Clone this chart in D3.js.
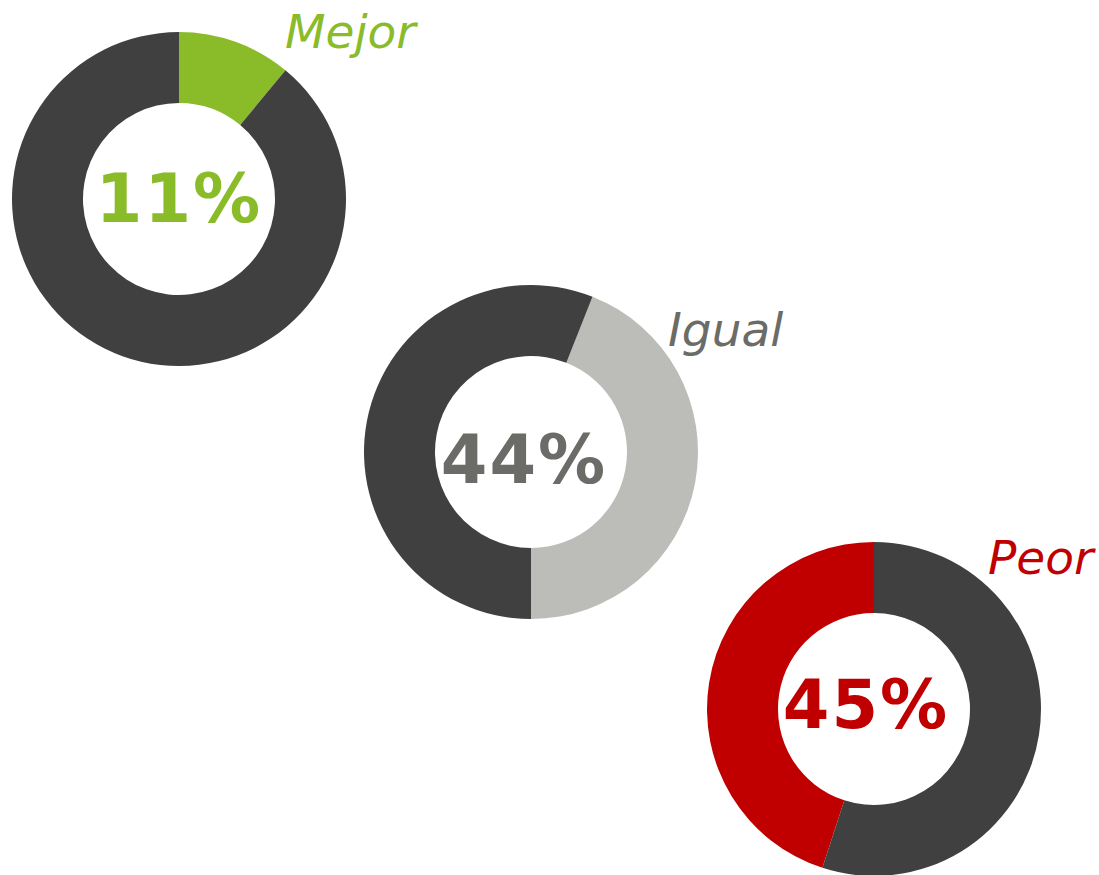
<!DOCTYPE html>
<html>
<head>
<meta charset="utf-8">
<script src="https://cdn.jsdelivr.net/npm/d3@7"></script>
<style>
  html, body { margin: 0; padding: 0; background: #fff; }
  svg { display: block; }
</style>
</head>
<body>
<div id="chart"></div>
<script>
// data
const categories = ['Mejor', 'Igual', 'Peor'];
const shares = [11, 44, 45];
const colors = ['#8abb28', '#bcbcb8', '#c00000'];
const textColors = ['#8abb28', '#6b6b67', '#c00000'];

// layout: donut centres, where the highlighted slice starts (degrees), label spot
const centers = [[179, 199], [531, 452], [874, 709]];
const sliceStart = [0, 21.6, 198];
const labelPos = [[285, 48], [668, 346], [988, 574]];
const pctOffset = [[0, 23], [-7, 31], [-8, 19]];

const width = 1099, height = 875;
const outerR = 167, innerR = 96;
const dark = '#404040';

const svg = d3.select('#chart').append('svg')
	.attr('width', width)
	.attr('height', height);

const arc = d3.arc()
	.innerRadius(innerR)
	.outerRadius(outerR);

const pie = d3.pie()
	.sort(null)
	.value(d => d.v);

categories.forEach((cat, i) => {
	const start = sliceStart[i] * Math.PI / 180;
	const slices = pie
		.startAngle(start)
		.endAngle(start + 2 * Math.PI)([
			{ v: shares[i], c: colors[i] },
			{ v: 100 - shares[i], c: dark }
		]);

	const g = svg.append('g')
		.attr('transform', `translate(${centers[i][0]},${centers[i][1]})`);

	g.selectAll('path')
		.data(slices)
		.enter().append('path')
		.attr('d', arc)
		.attr('fill', d => d.data.c);

	g.append('text')
		.attr('text-anchor', 'middle')
		.attr('x', pctOffset[i][0])
		.attr('y', pctOffset[i][1])
		.attr('font-family', 'DejaVu Sans, Verdana, sans-serif')
		.attr('font-weight', 'bold')
		.attr('font-size', 67)
		.attr('letter-spacing', 2)
		.attr('fill', textColors[i])
		.text(shares[i] + '%');

	svg.append('text')
		.attr('x', labelPos[i][0])
		.attr('y', labelPos[i][1])
		.attr('font-family', 'DejaVu Sans, Verdana, sans-serif')
		.attr('font-style', 'italic')
		.attr('font-size', 47)
		.attr('fill', textColors[i])
		.text(cat);
});
</script>
</body>
</html>
